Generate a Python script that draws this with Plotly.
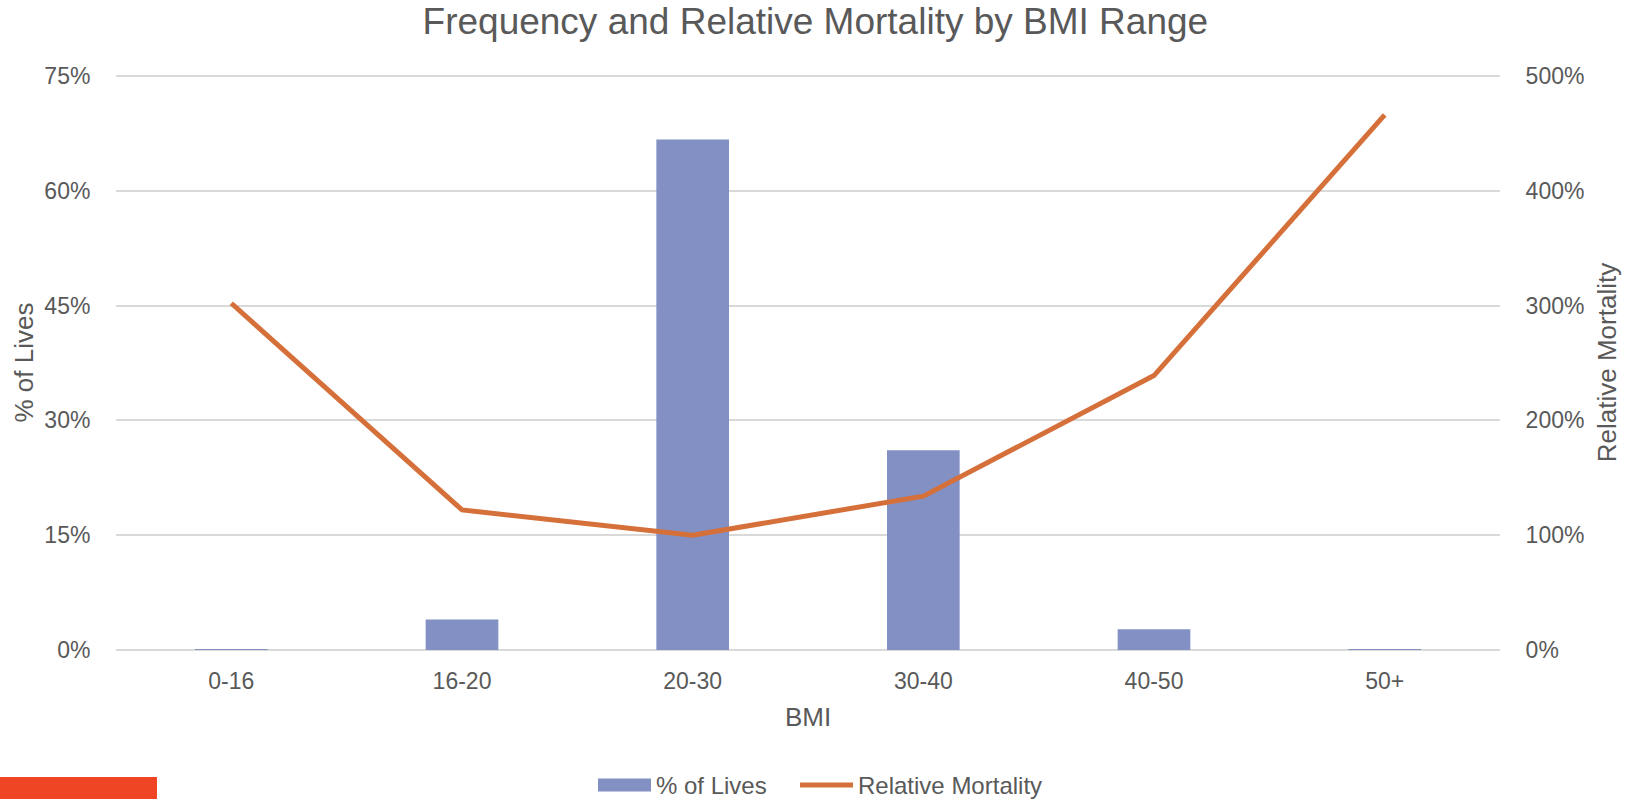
import plotly.graph_objects as go

categories = ["0-16", "16-20", "20-30", "30-40", "40-50", "50+"]
pct_lives = [0.00005, 0.040, 0.667, 0.261, 0.027, 0.0012]
rel_mortality = [3.02, 1.22, 1.00, 1.34, 2.39, 4.66]

left_ticks = [0, 0.15, 0.30, 0.45, 0.60, 0.75]
right_ticks = [0, 1, 2, 3, 4, 5]

TXT = "#595959"
FONT = "Liberation Sans, Arial, sans-serif"
BAR_C = "#8290C4"
LINE_C = "#D5703A"
GRID_C = "#D9D9D9"

# plot-area geometry in pixels (used only to place legend decorations)
W, H = 1634, 799
L, R, T, B = 116, 134, 75, 149
PW, PH = W - L - R, H - T - B


def px_x(px):
    return (px - L) / PW


def px_y(py):
    return (H - B - py) / PH


fig = go.Figure()
fig.add_trace(go.Bar(
    x=categories, y=pct_lives, name="% of Lives",
    marker=dict(color=BAR_C, line=dict(width=0)),
    width=0.315, yaxis="y",
))
fig.add_trace(go.Scatter(
    x=categories, y=rel_mortality, name="Relative Mortality",
    mode="lines", line=dict(color=LINE_C, width=5),
    yaxis="y2",
))

legend_y = 785
shapes = [
    # top gridline at the last tick
    dict(type="line", xref="paper", yref="y", x0=0, x1=1,
         y0=left_ticks[-1], y1=left_ticks[-1],
         line=dict(color=GRID_C, width=2), layer="below"),
    # legend swatches
    dict(type="rect", xref="paper", yref="paper",
         x0=px_x(598), x1=px_x(651), y0=px_y(legend_y + 6.5), y1=px_y(legend_y - 6.5),
         fillcolor=BAR_C, line=dict(width=0)),
    dict(type="line", xref="paper", yref="paper",
         x0=px_x(800), x1=px_x(853), y0=px_y(legend_y), y1=px_y(legend_y),
         line=dict(color=LINE_C, width=5)),
    # red bar at bottom-left
    dict(type="rect", xref="paper", yref="paper",
         x0=px_x(0), x1=px_x(157), y0=px_y(799), y1=px_y(777),
         fillcolor="#F04525", line=dict(width=0), layer="above"),
]

annotations = [
    dict(text="% of Lives", xref="paper", yref="paper", x=px_x(654), y=px_y(legend_y),
         xanchor="left", yanchor="middle", showarrow=False,
         font=dict(size=24, color=TXT, family=FONT)),
    dict(text="Relative Mortality", xref="paper", yref="paper", x=px_x(856), y=px_y(legend_y),
         xanchor="left", yanchor="middle", showarrow=False,
         font=dict(size=24, color=TXT, family=FONT)),
]

fig.update_layout(
    width=W, height=H,
    margin=dict(l=L, r=R, t=T, b=B, autoexpand=False),
    paper_bgcolor="white", plot_bgcolor="white",
    font=dict(family=FONT, size=23, color=TXT),
    title=dict(text="Frequency and Relative Mortality by BMI Range",
               x=0.499, xanchor="center", y=0.974, yanchor="middle",
               font=dict(size=37, color=TXT, family=FONT)),
    hovermode=False,
    showlegend=False,
    xaxis=dict(
        type="category", showgrid=False, showline=False, zeroline=False,
        ticks="outside", ticklen=10, tickcolor="rgba(0,0,0,0)",
        tickfont=dict(size=23, color=TXT),
        title=dict(text="BMI", standoff=15, font=dict(size=26, color=TXT)),
        automargin=False,
    ),
    yaxis=dict(
        range=[0, 0.7512], tickvals=left_ticks, tickformat=".0%",
        showgrid=True, gridcolor=GRID_C, gridwidth=2,
        zeroline=True, zerolinecolor=GRID_C, zerolinewidth=2,
        showline=False,
        ticks="outside", ticklen=20, tickcolor="rgba(0,0,0,0)",
        tickfont=dict(size=23, color=TXT),
        title=dict(text="% of Lives", standoff=3, font=dict(size=26, color=TXT)),
        automargin=False,
    ),
    yaxis2=dict(
        range=[0, 5.008], tickvals=right_ticks, tickformat=".0%",
        overlaying="y", side="right",
        showgrid=False, zeroline=False, showline=False,
        ticks="outside", ticklen=20, tickcolor="rgba(0,0,0,0)",
        tickfont=dict(size=23, color=TXT),
        title=dict(text="Relative Mortality", standoff=14, font=dict(size=26, color=TXT)),
        automargin=False,
    ),
    shapes=shapes,
    annotations=annotations,
)

fig.write_html("out.html", config={"displayModeBar": False})

with open("out.html", "r", encoding="utf-8") as f:
    html = f.read()
html = html.replace("<body>", '<body style="margin:0;overflow:hidden">', 1)
with open("out.html", "w", encoding="utf-8") as f:
    f.write(html)
